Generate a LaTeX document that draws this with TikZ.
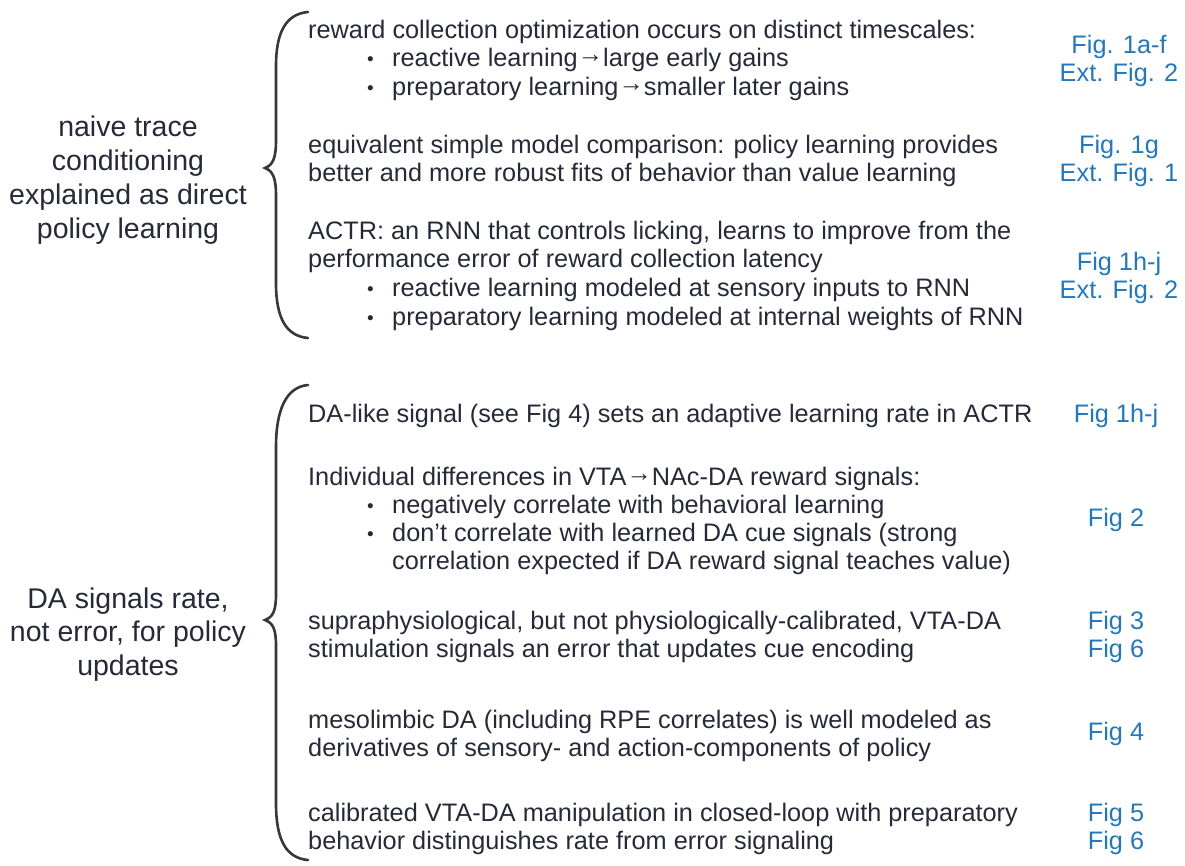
\documentclass[tikz,border=0pt]{standalone}
\usepackage{fontspec}
\setmainfont{Liberation Sans}
\definecolor{inkgray}{RGB}{38,42,56}
\definecolor{figblue}{RGB}{36,120,186}
\definecolor{bracegray}{RGB}{55,55,58}
\newcommand\goesto{\raisebox{4pt}{→}}
\begin{document}
\begin{tikzpicture}[x=1pt, y=-1pt,
    txt/.style={anchor=base west, inner sep=0pt, text=inkgray, font=\fontsize{25.3}{28}\selectfont},
    dotmark/.style={anchor=base west, inner sep=0pt, text=inkgray, font=\fontsize{19}{28}\selectfont, yshift=1pt},
    ref/.style={anchor=base, inner sep=0pt, text=figblue, font=\fontsize{25.3}{28}\selectfont},
    lbl/.style={anchor=base, inner sep=0pt, text=inkgray, font=\fontsize{28.5}{34}\selectfont},
    curly/.style={draw=bracegray, line width=2.6pt, line cap=round}]
  \def\tx{308}
  \def\bx{367}
  \def\ix{392}
  \def\rx{1119}
  \def\lx{128}
  \useasboundingbox (0,0) rectangle (1185,865);

  % left labels
  \node[lbl] (naive1) at (\lx,136) {naive trace};
  \node[lbl] (naive2) at (\lx,170) {conditioning};
  \node[lbl] (naive3) at (\lx,204) {explained as direct};
  \node[lbl] (naive4) at (\lx,238) {policy learning};
  \node[lbl] (rate1) at (\lx,608) {DA signals rate,};
  \node[lbl] (rate2) at (\lx,641) {not error, for policy};
  \node[lbl] (rate3) at (\lx,675) {updates};

  % braces
  \draw[curly] (308,12) .. controls (286,14) and (276,32) .. (276,66)
    -- (276,140) .. controls (276,158) and (273,165) .. (265,168)
    .. controls (273,171) and (276,178) .. (276,196)
    -- (276,283) .. controls (276,318) and (286,336) .. (308,338);
  \draw[curly] (308,385) .. controls (286,387) and (276,410) .. (276,447)
    -- (276,594) .. controls (276,611) and (273,617) .. (265,620)
    .. controls (273,623) and (276,629) .. (276,646)
    -- (276,803) .. controls (276,840) and (286,858) .. (308,860);

  % upper group
  \node[txt] (rc) at (\tx,38) {reward collection optimization occurs on distinct timescales:};
  \node[txt] (rc1) at (\ix,66) {reactive learning\goesto large early gains};
  \node[txt] (rc2) at (\ix,95) {preparatory learning\goesto smaller later gains};
  \node[txt] (eq) at (\tx,153) {equivalent simple model comparison: policy learning provides};
  \node[txt] (eq1) at (\tx,181) {better and more robust fits of behavior than value learning};
  \node[txt] (actr) at (\tx,239) {ACTR: an RNN that controls licking, learns to improve from the};
  \node[txt] (actr1) at (\tx,267) {performance error of reward collection latency};
  \node[txt] (actr2) at (\ix,296) {reactive learning modeled at sensory inputs to RNN};
  \node[txt] (actr3) at (\ix,325) {preparatory learning modeled at internal weights of RNN};

  % lower group
  \node[txt] (dal) at (\tx,422) {DA-like signal (see Fig 4) sets an adaptive learning rate in ACTR};
  \node[txt] (ind) at (\tx,485) {Individual differences in VTA\goesto NAc-DA reward signals:};
  \node[txt] (ind1) at (\ix,513) {negatively correlate with behavioral learning};
  \node[txt] (ind2) at (\ix,541) {don’t correlate with learned DA cue signals (strong};
  \node[txt] (ind3) at (\ix,569) {correlation expected if DA reward signal teaches value)};
  \node[txt] (sup) at (\tx,629) {supraphysiological, but not physiologically-calibrated, VTA-DA};
  \node[txt] (sup1) at (\tx,657) {stimulation signals an error that updates cue encoding};
  \node[txt] (meso) at (\tx,728) {mesolimbic DA (including RPE correlates) is well modeled as};
  \node[txt] (meso1) at (\tx,756) {derivatives of sensory- and action-components of policy};
  \node[txt] (cal) at (\tx,821) {calibrated VTA-DA manipulation in closed-loop with preparatory};
  \node[txt] (cal1) at (\tx,849) {behavior distinguishes rate from error signaling};

  % bullets
  \foreach \y [count=\i] in {66,95,296,325,513,541}
    \node[dotmark] (dot\i) at (\bx,\y) {•};

  % figure references
  \node[ref] (f1a) at (\rx,53) {Fig. 1a-f};
  \node[ref] (f1b) at (\rx,81) {Ext. Fig. 2};
  \node[ref] (f2a) at (\rx,153) {Fig. 1g};
  \node[ref] (f2b) at (\rx,181) {Ext. Fig. 1};
  \node[ref] (f3a) at (\rx,270) {Fig 1h-j};
  \node[ref] (f3b) at (\rx,298) {Ext. Fig. 2};
  \node[ref] (f4) at (1116,422) {Fig 1h-j};
  \node[ref] (f5) at (1116,526) {Fig 2};
  \node[ref] (f6a) at (1116,629) {Fig 3};
  \node[ref] (f6b) at (1116,657) {Fig 6};
  \node[ref] (f7) at (1116,740) {Fig 4};
  \node[ref] (f8a) at (1116,821) {Fig 5};
  \node[ref] (f8b) at (1116,849) {Fig 6};
\end{tikzpicture}
\end{document}
